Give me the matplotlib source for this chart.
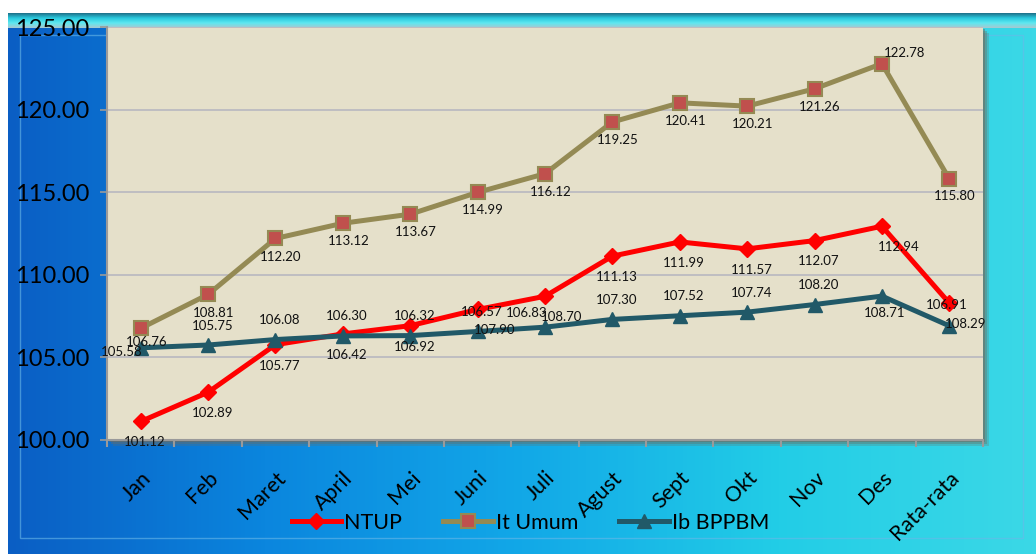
import matplotlib
matplotlib.use("Agg")
import matplotlib.pyplot as plt
import numpy as np
from matplotlib.patches import Rectangle
from matplotlib.colors import LinearSegmentedColormap

plt.rcParams['font.family'] = ['Lato', 'DejaVu Sans']

bulan = ["Jan", "Feb", "Maret", "April", "Mei", "Juni", "Juli", "Agust",
         "Sept", "Okt", "Nov", "Des", "Rata-rata"]
ntup = [101.12, 102.89, 105.77, 106.42, 106.92, 107.90, 108.70, 111.13,
        111.99, 111.57, 112.07, 112.94, 108.29]
it_umum = [106.76, 108.81, 112.20, 113.12, 113.67, 114.99, 116.12, 119.25,
           120.41, 120.21, 121.26, 122.78, 115.80]
ib_bppbm = [105.58, 105.75, 106.08, 106.30, 106.32, 106.57, 106.83, 107.30,
            107.52, 107.74, 108.20, 108.71, 106.91]

fig = plt.figure(figsize=(10.36, 5.54), dpi=100)
fig.patch.set_facecolor("white")

# blue gradient frame behind the chart
bg = fig.add_axes([8/1036, 0, 1 - 8/1036, 541/554])
bg.set_axis_off()
cmap = LinearSegmentedColormap.from_list("frame", ["#0a5ec4", "#0b86de", "#12a8e8", "#22cde6", "#3bd8e6"])
grad = np.tile(np.linspace(0, 1, 256), (64, 1))
bg.imshow(grad, aspect="auto", cmap=cmap, extent=[0, 1, 0, 1])
# top cyan strip
top = LinearSegmentedColormap.from_list("top", ["#1e6f88", "#29c9de", "#5ee8f0", "#a8c8d0"])
bg.imshow(np.linspace(0, 1, 64).reshape(-1, 1), aspect="auto", cmap=top,
          extent=[0, 1, 1 - 15/541, 1])
bg.add_patch(Rectangle((0.012, 0.03), 0.975, 0.93, fill=False, ec="#6ab8e8", lw=1, alpha=0.6))
# soft shadow behind plot area
for k, a in [(6, 0.25), (4, 0.35), (2, 0.5)]:
    bg.add_patch(Rectangle((107/1036 + k/1036, 1 - (440 + k)/554), 876/1036, 413/554,
                           transform=fig.transFigure, color="#6f6b5e", alpha=a, lw=0))
bg.set_xlim(0, 1)
bg.set_ylim(0, 1)

ax = fig.add_axes([107/1036, 1 - 440/554, 876/1036, 413/554])
ax.set_facecolor("#e5e0ca")
x = np.arange(len(bulan))

ax.plot(x, ntup, color="#ff0000", lw=3.6, marker="D", ms=8, mfc="#ff0000",
        mec="#ff0000", label="NTUP", zorder=4)
ax.plot(x, it_umum, color="#948a54", lw=3.6, marker="s", ms=10, mfc="#c0504d",
        mec="#948a54", mew=1.5, label="It Umum", zorder=3)
ax.plot(x, ib_bppbm, color="#215968", lw=3.6, marker="^", ms=10, mfc="#215968",
        mec="#215968", label="Ib BPPBM", zorder=5)

lbl = dict(fontsize=9.5, color="#111111", ha="center", va="center", zorder=6)
for i in range(len(bulan)):
    dx, dy = 4, -13
    if i == 0:
        dx, dy = 4, -10
    if i == 11:
        dx, dy = 16, 8
    if i == 12:
        dx, dy = 4, -12
    ax.annotate(f"{it_umum[i]:.2f}", (x[i], it_umum[i]), xytext=(dx, dy),
                textcoords="offset points", **lbl)
    dx, dy = 3, -15
    if i in (5, 6, 11, 12):
        dx = 12
    ax.annotate(f"{ntup[i]:.2f}", (x[i], ntup[i]), xytext=(dx, dy),
                textcoords="offset points", **lbl)
    dx, dy = 3, 14
    if i == 0:
        dx, dy = -14, -3
    if i == 6:
        dx, dy = -13, 10
    if i == 11:
        dx, dy = 2, -12
    if i == 12:
        dx, dy = -2, 15
    ax.annotate(f"{ib_bppbm[i]:.2f}", (x[i], ib_bppbm[i]), xytext=(dx, dy),
                textcoords="offset points", **lbl)

ax.set_xlim(-0.5, len(bulan) - 0.5)
ax.set_ylim(100, 125)
ax.set_yticks([100, 105, 110, 115, 120, 125])
ax.set_yticklabels([f"{v:.2f}" for v in [100, 105, 110, 115, 120, 125]], fontsize=17)
ax.yaxis.grid(True, color="#b8b8c0", lw=1.2)
ax.set_axisbelow(True)
ax.set_xticks(x)
ax.set_xticklabels(bulan, rotation=45, ha="right", rotation_mode="anchor", fontsize=15.5)
ax.set_xticks(np.arange(-0.5, len(bulan)), minor=True)
ax.tick_params(axis="x", which="major", length=0, pad=20)
ax.tick_params(axis="x", which="minor", length=5, color="#9a9a9a", width=1.5)
ax.tick_params(axis="y", length=5, color="#9a9a9a", width=1.2, pad=8)
for s in ["top", "right"]:
    ax.spines[s].set_visible(False)
ax.spines["left"].set_color("#9a9a9a")
ax.spines["left"].set_linewidth(1.5)
ax.spines["bottom"].set_color("#9a9a9a")
ax.spines["bottom"].set_linewidth(1.5)

fig.legend(loc="center", bbox_to_anchor=(0.512, 0.056), ncol=3, frameon=False,
           fontsize=15.5, handlelength=2.3, columnspacing=1.9, handletextpad=0.15)

fig.savefig("out.png", dpi=100)
